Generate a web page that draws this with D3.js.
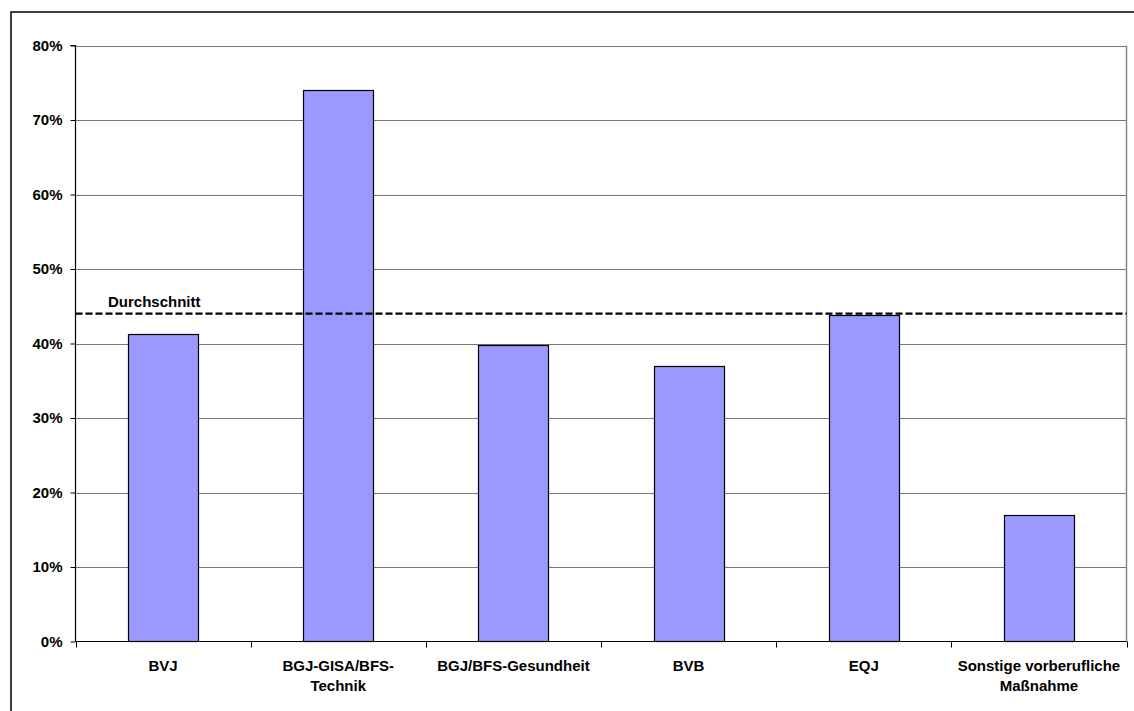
<!DOCTYPE html>
<html>
<head>
<meta charset="utf-8">
<script src="https://cdn.jsdelivr.net/npm/d3@7"></script>
<style>
  html, body { margin: 0; padding: 0; background: #fff; }
  svg { display: block; }
  text { font-family: "Liberation Sans", Arial, sans-serif; font-weight: bold; fill: #000; }
</style>
</head>
<body>
<svg id="chart" width="1134" height="711"></svg>
<script>
// Kategorien (Zeilenumbruch im Achsenbeschriftungstext mit \n)
const categories = [
  "BVJ",
  "BGJ-GISA/BFS-\nTechnik",
  "BGJ/BFS-Gesundheit",
  "BVB",
  "EQJ",
  "Sonstige vorberufliche\nMaßnahme"
];
// Anteile je Maßnahme
const values = [0.413, 0.740, 0.398, 0.370, 0.438, 0.170];
// Durchschnitt über alle Maßnahmen
const average = 0.44;
const averageLabel = "Durchschnitt";
// Y-Achsenteilung
const yTicks = [0, 0.1, 0.2, 0.3, 0.4, 0.5, 0.6, 0.7, 0.8];

const fontSize = "15px";
const svg = d3.select("#chart");
const plot = { left: 75.5, right: 1126.5, top: 45.5, bottom: 641.5 };

// äußerer Rahmen
svg.append("rect")
  .attr("x", 11).attr("y", 12)
  .attr("width", 1200).attr("height", 800)
  .attr("fill", "none").attr("stroke", "#000").attr("stroke-width", 1.5);

const y = d3.scaleLinear().domain([0, 0.8]).range([plot.bottom, plot.top]);
const xCat = d3.scaleBand().domain(categories).range([plot.left, plot.right]).padding(0);
const xBar = d3.scaleBand().domain(categories).range([plot.left, plot.right])
  .paddingInner(0.6).paddingOuter(0.3);

// Gitterlinien
svg.append("g")
  .selectAll("line")
  .data(yTicks.filter(d => d > 0))
  .join("line")
  .attr("x1", plot.left).attr("x2", plot.right)
  .attr("y1", d => Math.round(y(d)) + 0.5).attr("y2", d => Math.round(y(d)) + 0.5)
  .attr("stroke", "#777").attr("stroke-width", 1);

// rechter Rand der Zeichenfläche
svg.append("line")
  .attr("x1", plot.right).attr("x2", plot.right)
  .attr("y1", plot.top).attr("y2", plot.bottom)
  .attr("stroke", "#888").attr("stroke-width", 1.5);

// Balken
svg.append("g")
  .selectAll("rect")
  .data(values)
  .join("rect")
  .attr("x", (d, i) => Math.round(xBar(categories[i])) + 0.5)
  .attr("y", d => Math.round(y(d)) + 0.5)
  .attr("width", Math.round(xBar.bandwidth()))
  .attr("height", d => Math.round(plot.bottom - 0.5 - y(d)))
  .attr("fill", "#9999FF")
  .attr("stroke", "#000")
  .attr("stroke-width", 1.2);

// Durchschnittslinie
svg.append("line")
  .attr("x1", plot.left).attr("x2", plot.right)
  .attr("y1", y(average)).attr("y2", y(average))
  .attr("stroke", "#000").attr("stroke-width", 2.2)
  .attr("stroke-dasharray", "7,3");

svg.append("text")
  .attr("x", 108).attr("y", y(average) - 7)
  .style("font-size", fontSize)
  .text(averageLabel);

// Y-Achse
const yAxis = d3.axisLeft(y)
  .tickValues(yTicks)
  .tickFormat(d3.format(".0%"))
  .tickSize(5)
  .tickPadding(8);
const gy = svg.append("g")
  .attr("transform", `translate(${plot.left},0)`)
  .call(yAxis);
gy.select(".domain").attr("stroke", "#000").attr("stroke-width", 1.2).attr("d", `M-5,${plot.top}H0V${plot.bottom}`);
gy.selectAll(".tick line").attr("stroke", "#000");
gy.selectAll(".tick text").style("font-size", fontSize).style("font-family", "Liberation Sans, Arial, sans-serif").style("font-weight", "bold");

// X-Achse mit Teilstrichen an den Kategoriegrenzen
const gx = svg.append("g");
gx.append("line")
  .attr("x1", plot.left).attr("x2", plot.right)
  .attr("y1", plot.bottom).attr("y2", plot.bottom)
  .attr("stroke", "#000").attr("stroke-width", 1.2);
const boundaries = categories.map(c => xCat(c)).concat([xCat.range()[1]]);
gx.selectAll("line.tick")
  .data(boundaries)
  .join("line")
  .attr("class", "tick")
  .attr("x1", d => Math.round(d) + 0.5).attr("x2", d => Math.round(d) + 0.5)
  .attr("y1", plot.bottom).attr("y2", plot.bottom + 6)
  .attr("stroke", "#000");

const labels = gx.selectAll("text.cat")
  .data(categories)
  .join("text")
  .attr("class", "cat")
  .attr("text-anchor", "middle")
  .style("font-size", fontSize)
  .attr("transform", d => `translate(${xCat(d) + xCat.bandwidth() / 2},${plot.bottom + 29.5})`);
labels.selectAll("tspan")
  .data(d => d.split("\n"))
  .join("tspan")
  .attr("x", 0)
  .attr("dy", (d, i) => i === 0 ? 0 : 19.7)
  .text(d => d);
</script>
</body>
</html>
